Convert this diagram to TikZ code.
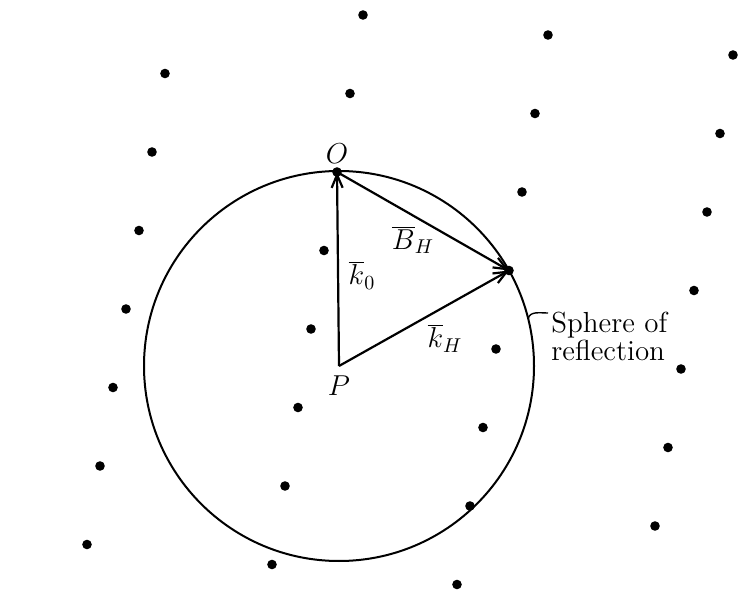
\documentclass[tikz,border=0pt]{standalone}
\usetikzlibrary{arrows.meta, positioning, calc}
\tikzstyle{latpt} = [circle, fill=black, inner sep=0pt, minimum size=4.8pt]
\tikzstyle{vec}   = [-{Straight Barb[length=6.5pt, width=5.5pt]}, line width=1.1pt]
\tikzstyle{lbl}   = [inner sep=0pt, font=\fontsize{14.5}{12.5}\selectfont]

\begin{document}
\begin{tikzpicture}[x=0.5pt, y=-0.5pt]
  \useasboundingbox (0,0) rectangle (755,593);

  % Origin of the reciprocal lattice and centre of the sphere
  \coordinate (O) at (337,172);
  \coordinate (P) at (339,366);
  \coordinate (H) at ($(O)+(185,20)+(-13,78.5)$);

  % Reciprocal lattice points
  \foreach \i/\jmin/\jmax in {-1/-1/5, 0/-2/5, 1/-2/5, 2/-2/4} {
    \foreach \j in {\jmin,...,\jmax} {
      \node[latpt] (lat-\i-\j) at ($(O)+\i*(185,20)+\j*(-13,78.5)$) {};
    }
  }

  % Sphere
  \draw[line width=1pt] (P) circle (97.5pt);

  % Vectors
  \draw[vec] (P) -- (O);
  \draw[vec] (O) -- (H);
  \draw[vec] (P) -- (H);

  % Labels
  \node[lbl, above=4pt of O] (olab) {$O$};
  \node[lbl, below=4.5pt of P] (plab) {$P$};
  \node[lbl] (k0lab) at (362,275) {$\overline{k}_0$};
  \node[lbl] (bhlab) at (413,240) {$\overline{B}_H$};
  \node[lbl] (khlab) at (445,338) {$\overline{k}_H$};

  \coordinate (S) at ($(P)+(14:97.5pt)$);
  \coordinate (send) at (548,313);
  \node[lbl, anchor=west, align=left] (sph) at (551,336) {Sphere of\\reflection};
  \draw[line width=0.7pt] (S) to[out=80, in=180] (send);
\end{tikzpicture}
\end{document}
